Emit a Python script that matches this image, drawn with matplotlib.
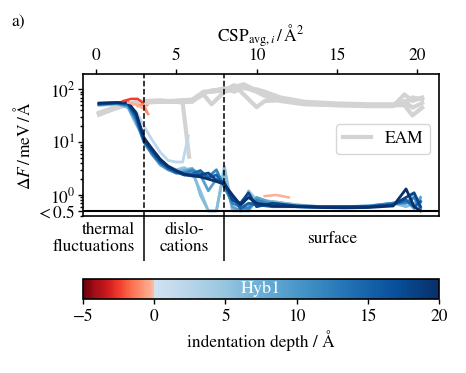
import numpy as np
import matplotlib.pyplot as plt
from matplotlib.colors import ListedColormap, Normalize
from matplotlib.cm import ScalarMappable

plt.rcParams['font.family'] = 'serif'
plt.rcParams['font.serif'] = ['STIXGeneral', 'Liberation Serif', 'DejaVu Serif']
plt.rcParams['mathtext.fontset'] = 'stix'
plt.rcParams['font.size'] = 12.5

# --- Hyb1 curves (shared CSP grid), dF in meV/A ---
x_hyb = [0.2, 1.3, 2.0, 2.5, 3.0, 3.5, 4.0, 4.5, 5.0, 5.5, 6.0, 6.5, 7.0, 7.5,
         8.0, 8.5, 9.0, 9.5, 10.0, 11.0, 12.5, 14.0, 15.5, 17.0, 18.5, 19.3, 19.8, 20.2]
hyb_depths = [5, 6, 9, 12, 15, 18, 20]
hyb_d5 = [50, 53, 47, 24, 12, 7.0, 4.5, 3.5, 3.0, 3.3, 2.6, 1.2, 0.4, 0.4,
          3.5, 0.45, 0.4, 1.2, 0.8, 0.75, 0.65, 0.6, 0.6, 0.62, 0.7, 0.7, 1.0, 0.7]
hyb_d6 = [51, 53, 45, 22, 12, 6.0, 3.7, 3.0, 2.8, 3.0, 3.2, 1.0, 0.5, 0.45,
          3.0, 0.55, 0.5, 0.45, 0.8, 0.75, 0.65, 0.6, 0.6, 0.6, 0.7, 0.6, 0.7, 0.8]
hyb_d9 = [52, 54, 48, 25, 10, 5.8, 3.8, 3.0, 2.6, 2.8, 3.1, 2.4, 1.2, 2.0,
          1.8, 0.6, 0.45, 0.6, 0.9, 0.7, 0.62, 0.6, 0.6, 0.6, 0.7, 0.8, 0.55, 0.9]
hyb_d12 = [53, 55, 50, 27, 10, 6.0, 4.0, 3.1, 2.6, 2.6, 2.9, 2.5, 2.2, 3.0,
           1.4, 0.7, 0.6, 0.55, 0.8, 0.65, 0.6, 0.6, 0.6, 0.62, 0.7, 0.7, 0.9, 0.55]
hyb_d15 = [52, 55, 52, 30, 10.5, 6.5, 4.2, 3.2, 2.7, 2.4, 2.5, 2.9, 2.1, 2.4,
           1.5, 0.9, 0.55, 0.7, 0.65, 0.6, 0.6, 0.58, 0.58, 0.6, 0.66, 0.8, 0.6, 0.75]
hyb_d18 = [54, 56, 55, 34, 11, 7.0, 4.5, 3.4, 2.8, 2.4, 2.3, 2.4, 2.6, 1.9,
           1.7, 0.8, 0.7, 1.1, 0.6, 0.7, 0.62, 0.6, 0.6, 0.6, 0.65, 0.9, 1.1, 0.6]
hyb_d20 = [55, 56, 56, 36, 12, 7.5, 4.8, 3.5, 2.9, 2.5, 2.3, 2.2, 2.0, 1.8,
           1.6, 1.0, 0.65, 0.9, 0.7, 0.62, 0.6, 0.58, 0.57, 0.58, 0.62, 1.3, 0.6, 0.5]
hyb_curves = [hyb_d5, hyb_d6, hyb_d9, hyb_d12, hyb_d15, hyb_d18, hyb_d20]

# short light-blue curve (depth 2)
x_hyb_d2 = [0.2, 1.3, 2.0, 2.5, 3.0, 3.5, 4.0, 4.5, 5.0, 5.4, 5.75]
hyb_d2 = [50, 52, 50, 38, 20, 11, 6.5, 4.5, 4.2, 4.2, 13]

# negative depths (red)
x_red_a = [1.7, 2.2, 2.6, 2.85, 3.0, 3.15]
red_a = [60, 66, 66, 58, 48, 38]
x_red_b = [2.6, 2.9, 3.1, 3.25]
red_b = [48, 52, 42, 34]
x_red_c = [2.0, 2.5, 2.9, 3.2, 9.9, 10.5, 11.2, 12.0]
red_c = [56, 52, 44, 50, np.nan, 0.95, 1.0, 0.9]
red_depths = [-2.5, -1.0, -0.3]

# EAM curves
x_eam = [0.2, 1.0, 2.0, 3.0, 4.0, 5.0, 6.0, 6.7, 7.2, 8.0, 8.6, 9.2, 10.0,
         10.5, 11.5, 13.0, 15.0, 17.0, 18.5, 19.2, 19.7, 20.3]
eam_1 = [34, 42, 52, 58, 60, 60, 62, 85, 95, 100, 110, 125, 95, 80, 65, 55, 52, 50, 50, 55, 70, 65]
eam_2 = [36, 44, 53, 56, 58, 58, 60, 80, 52, 90, 100, 105, 100, 90, 70, 58, 54, 52, 52, 60, 45, 55]
eam_3 = [35, 43, 54, 60, 62, 58, 58, 88, 90, 95, 120, 80, 46, 60, 62, 55, 50, 48, 48, 80, 60, 70]
eam_4 = [33, 41, 52, 57, 59, 61, 64, 90, 92, 105, 90, 110, 90, 75, 60, 52, 50, 50, 50, 50, 32, 45]
eam_curves = [eam_1, eam_2, eam_3, eam_4]
x_eam_5 = [0.2, 1.0, 2.0, 3.0, 4.0, 5.0, 5.4, 5.8]
eam_5 = [35, 43, 53, 57, 59, 58, 56, 5.3]

# colormap: reds for negative depth, blues for positive
reds = plt.get_cmap('Reds_r')(np.linspace(0.0, 0.75, 64))
blues = plt.get_cmap('Blues')(np.linspace(0.2, 1.0, 256))
cmap = ListedColormap(np.vstack([reds, blues]))
norm = Normalize(-5, 20)

fig = plt.figure(figsize=(4.66, 3.73), dpi=100)
ax = fig.add_axes([83/466, 1-216/373, 356/466, 142/373])

gray = '#d3d3d3'
for i, y in enumerate(eam_curves):
    ax.plot(x_eam, y, color=gray, lw=3, zorder=1, label='EAM' if i == 0 else None)
ax.plot(x_eam_5, eam_5, color=gray, lw=3, zorder=1)

ax.plot(x_hyb_d2, np.maximum(hyb_d2, 0.5), color=cmap(norm(2)), lw=2, zorder=2)
for d, y in zip(hyb_depths, hyb_curves):
    ax.plot(x_hyb, np.maximum(y, 0.5), color=cmap(norm(d)), lw=2, zorder=2)
for d, xs, y in zip(red_depths, [x_red_a, x_red_b, x_red_c], [red_a, red_b, red_c]):
    ax.plot(xs, y, color=cmap(norm(d)), lw=1.8, zorder=3)

ax.axvline(3, color='k', ls='--', lw=1.1, zorder=4)
ax.axvline(8, color='k', ls='--', lw=1.1, zorder=4)
ax.axhline(0.5, color='k', lw=1.5, zorder=4)

ax.set_yscale('log')
ax.set_ylim(0.4, 195)
ax.set_xlim(-0.8, 21.35)
ax.set_yticks([0.5, 1, 10, 100])
ax.set_yticklabels([r'$<0.5$', r'$10^0$', r'$10^1$', r'$10^2$'])
ax.xaxis.tick_top()
ax.xaxis.set_label_position('top')
ax.set_xticks([0, 5, 10, 15, 20])
ax.set_xlabel(r'CSP$_{\mathrm{avg},i}\,/\,\mathrm{\AA}^2$', labelpad=5)
ax.set_ylabel(r'$\Delta F\,/\,\mathrm{meV}\,/\,\mathrm{\AA}$', labelpad=1)
ax.tick_params(which='both', width=1)
ax.tick_params(axis='y', pad=2)
for s in ax.spines.values():
    s.set_linewidth(1.2)
ax.legend(loc='center right', bbox_to_anchor=(1.0, 0.54), handlelength=1.6)

# regime labels below the plot
lab = fig.add_axes([83/466, 1-261/373, 356/466, 45/373])
lab.set_xlim(ax.get_xlim())
lab.set_ylim(0, 1)
lab.axis('off')
lab.axvline(3, color='k', lw=1.1)
lab.axvline(8, color='k', lw=1.1)
lab.text(2.45, 0.5, 'thermal\nfluctuations', ha='right', va='center', multialignment='right', linespacing=1.05)
lab.text(5.5, 0.5, 'dislo-\ncations', ha='center', va='center', linespacing=1.05)
lab.text(14.7, 0.5, 'surface', ha='center', va='center')

# colorbar
cax = fig.add_axes([83/466, 1-299/373, 356/466, 20/373])
cb = fig.colorbar(ScalarMappable(norm=norm, cmap=cmap), cax=cax, orientation='horizontal')
cb.set_ticks([-5, 0, 5, 10, 15, 20])
cb.outline.set_linewidth(1.2)
cax.tick_params(width=1)
cb.set_label('indentation depth / Å')
cax.text(0.5, 0.5, 'Hyb1', color='white', ha='center', va='center', fontsize=13, transform=cax.transAxes)

fig.text(0.025, 0.94, 'a)', ha='left', va='center')

fig.savefig('out.png', dpi=100)
